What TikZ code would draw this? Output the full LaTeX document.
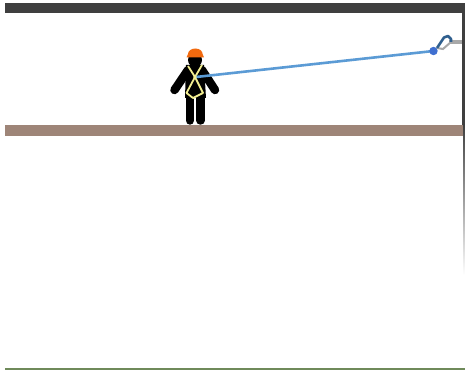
\documentclass[tikz,border=0pt]{standalone}
\definecolor{slab}{HTML}{9E8578}
\definecolor{roof}{HTML}{3F3F3F}
\definecolor{lifeline}{HTML}{5B9BD5}
\definecolor{hook}{HTML}{2F5F8E}
\definecolor{ball}{HTML}{3F6FD0}
\definecolor{harness}{HTML}{F2EE90}
\definecolor{hat}{HTML}{F26A0F}
\definecolor{grass}{HTML}{6F8A5A}
\definecolor{anchorgray}{HTML}{A8A8A8}
\begin{document}
\begin{tikzpicture}[x=1pt,y=-1pt,
  limb/.style={line width=8.5pt,line cap=round,black},
  strap/.style={line width=1.8pt,harness,line join=round}]
\useasboundingbox (0,0) rectangle (465,371);
\fill[white] (0,0) rectangle (465,371);
% structure
\fill[roof] (5,3) rectangle (465,13);
\fill[slab] (5,125) rectangle (463,136);
\fill[roof] (462,13) rectangle (464.5,125);
\shade[top color=roof,bottom color=white] (463,125) rectangle (465,275);
\fill[grass] (5,368) rectangle (465,369.5);
% anchor
\fill[anchorgray] (449,40.5) rectangle (462,44.5);
% worker
\fill[black] (195,60) circle (7);
\fill[black] (186,65) -- (204,65) -- (206,98) -- (185,98) -- cycle;
\draw[limb] (188,70) -- (174.5,90);
\draw[limb] (202,70) -- (215,90);
\draw[limb] (190,96) -- (190,120.5);
\draw[limb] (200.5,96) -- (200.5,120.5);
% helmet
\fill[hat] (186.5,57.5) -- (188,54) arc (180:360:7.3 and 5.5) -- (204,57.5) -- cycle;
% harness
\draw[strap] (188,66) -- (195,77) -- (202,65);
\draw[strap] (195,77) -- (186.5,93) -- (193,98) -- (203,93) -- (195,77);
% lifeline
\coordinate (clip) at (196,77);
\coordinate (ring) at (433.5,51);
\draw[lifeline,line width=2.6pt] (clip) -- (ring);
\fill[harness] (195,77) circle (1.8);
\fill[ball] (ring) circle (4.2);
% carabiner
\draw[anchorgray,line width=2pt] (451,42) -- (443,49) -- (437,48);
\draw[hook,line width=2.6pt,line join=round] (437,48) -- (444,37.5) -- (448,36) -- (451,39) -- (451,42);
\end{tikzpicture}
\end{document}
